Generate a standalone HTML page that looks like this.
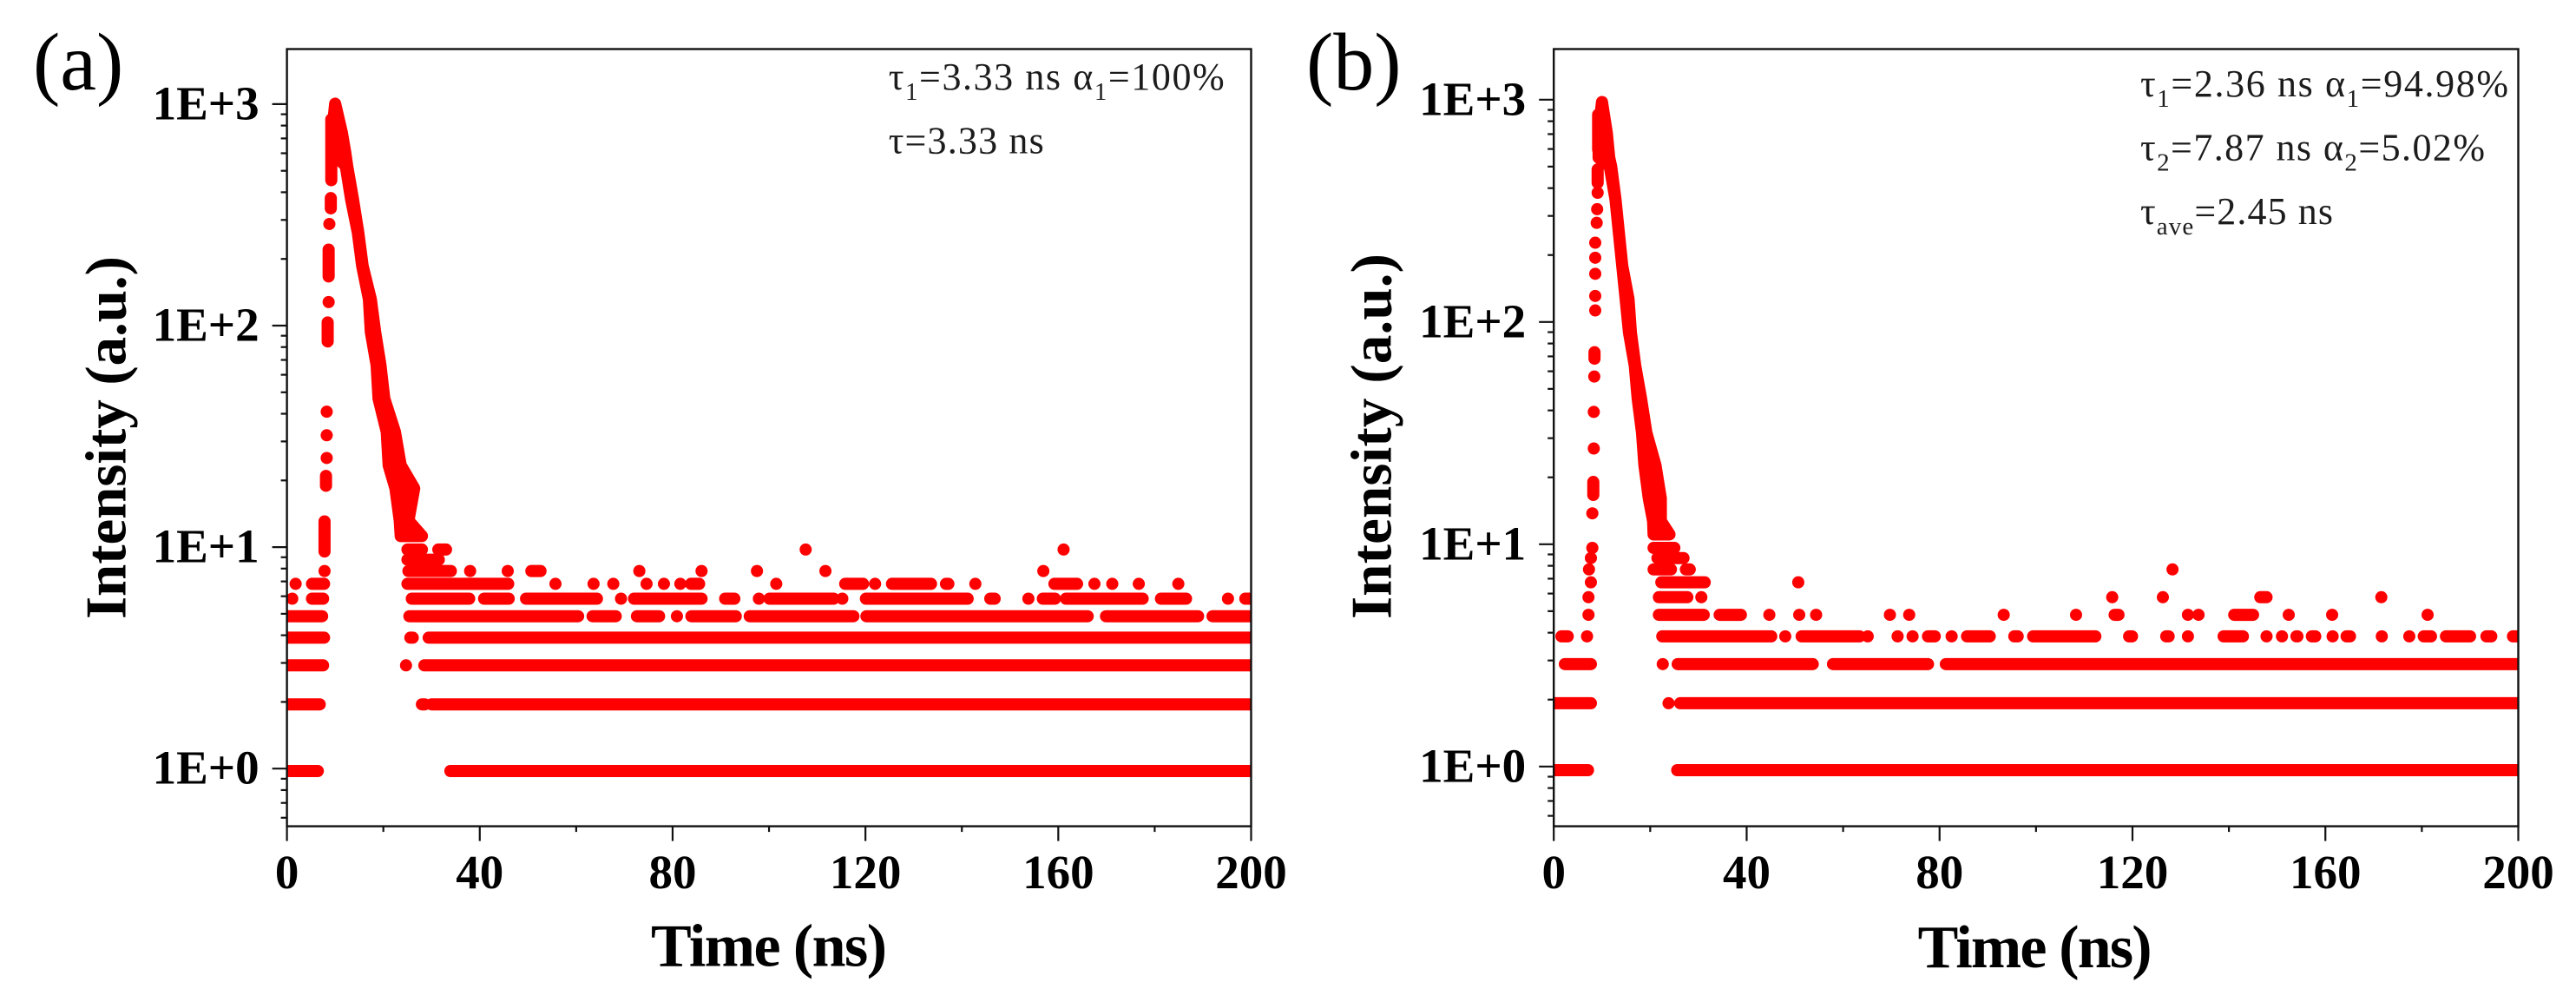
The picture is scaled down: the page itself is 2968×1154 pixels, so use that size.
<!DOCTYPE html>
<html lang="en">
<head>
<meta charset="utf-8">
<title>Fluorescence decay curves</title>
<style>
html,body{margin:0;padding:0;background:#fff;}
svg{display:block;}
text{font-family:"Liberation Serif",serif;}
.title{font-size:70px;font-weight:bold;fill:#000;}
.ytitle{font-size:67px;font-weight:bold;fill:#000;}
.note{font-size:44px;fill:#1c1c1c;}
.panel{font-size:94px;fill:#000;}
</style>
</head>
<body>
<svg id="figure" xmlns="http://www.w3.org/2000/svg" width="2968" height="1154" viewBox="0 0 2968 1154">
  <rect x="0" y="0" width="2968" height="1154" fill="#fff"/>
  <defs>
    <clipPath id="clip-a"><rect x="330.6" y="56.5" width="1110.9" height="895.1"/></clipPath>
    <clipPath id="clip-b"><rect x="1790.2" y="56.5" width="1111.3" height="895.1"/></clipPath>
  </defs>

  <g id="panel-a"></g>
  <g id="panel-b"></g>

  <text class="panel" x="38" y="103">(a)</text>
  <text class="panel" x="1505" y="103">(b)</text>

  <text class="ytitle" transform="translate(144.4 713) rotate(-90)" textLength="418" lengthAdjust="spacing">Intensity (a.u.)</text>
  <text class="ytitle" transform="translate(1602.4 713) rotate(-90)" textLength="421" lengthAdjust="spacing">Intensity (a.u.)</text>
  <text class="title" x="750" y="1112.7" textLength="272" lengthAdjust="spacing">Time (ns)</text>
  <text class="title" x="2209.6" y="1114" textLength="270" lengthAdjust="spacing">Time (ns)</text>

  <text class="note" x="1023.7" y="103" textLength="387" lengthAdjust="spacing">τ<tspan dy="12" font-size="29">1</tspan><tspan dy="-12">=3.33 ns α</tspan><tspan dy="12" font-size="29">1</tspan><tspan dy="-12">=100%</tspan></text>
  <text class="note" x="1023.7" y="176.7" textLength="179" lengthAdjust="spacing">τ=3.33 ns</text>
  <text class="note" x="2466" y="111" textLength="424" lengthAdjust="spacing">τ<tspan dy="12" font-size="29">1</tspan><tspan dy="-12">=2.36 ns α</tspan><tspan dy="12" font-size="29">1</tspan><tspan dy="-12">=94.98%</tspan></text>
  <text class="note" x="2466" y="184.3" textLength="397" lengthAdjust="spacing">τ<tspan dy="12" font-size="29">2</tspan><tspan dy="-12">=7.87 ns α</tspan><tspan dy="12" font-size="29">2</tspan><tspan dy="-12">=5.02%</tspan></text>
  <text class="note" x="2466" y="258" textLength="222" lengthAdjust="spacing">τ<tspan dy="12" font-size="29">ave</tspan><tspan dy="-12">=2.45 ns</tspan></text>
</svg>

<script>
// Axis tick data
const xTickValues = [0, 20, 40, 60, 80, 100, 120, 140, 160, 180, 200];
const xTickLabels = ['0', '', '40', '', '80', '', '120', '', '160', '', '200'];
const yDecades = [0, 1, 2, 3];
const yTickLabels = ['1E+0', '1E+1', '1E+2', '1E+3'];
const yMinorFactors = [2, 3, 4, 5, 6, 7, 8, 9];
const yLowerMinorTicks = [0.9, 0.8, 0.7, 0.6];

// Discrete photon-count levels (counts) for the background rows
const countLevels = [1, 2, 3, 4, 5, 6, 7, 8, 9, 10];

// Panel (a): occupied time spans [ns] read per count level
const runsA1 = [[0,6.4],[33.9,200]];
const runsA2 = [[0,6.8],[28,28.6],[30,200]];
const runsA3 = [[0,7.5],[24.7,24.7],[28.5,200]];
const runsA4 = [[0,7.7],[25.6,26.1],[29.4,200]];
const runsA5 = [[0,7.3],[25.4,60.4],[63.4,68.2],[72.6,77.2],[80.9,80.9],[83.9,93.1],[96,117.5],[120.2,166.1],[169.9,189],[192,200]];
const runsA6 = [[1.1,1.1],[5.2,7.5],[25.9,37.8],[40.9,46],[49.6,64.3],[69.3,69.3],[72,86],[90.9,92.8],[97.9,97.9],[100.1,113.4],[115.2,115.2],[120.1,141.2],[145.9,146.8],[153.8,153.8],[156.8,159.3],[161.6,177.5],[181.3,186.5],[195.2,195.2],[198.8,200]];
const runsA7 = [[1.8,1.8],[5.2,7.7],[25,45.9],[55.7,55.7],[63.6,63.6],[67.7,67.7],[74.6,74.6],[78.2,78.2],[81.6,81.6],[83.8,85.5],[101.5,101.5],[115.8,119.5],[122,122],[125.5,133.6],[136.7,137.2],[142.8,142.8],[159.2,163.9],[167.5,167.5],[171.2,171.2],[176.7,176.7],[184.9,184.9]];
const runsA8 = [[7.8,7.8],[25.2,34],[38,38],[45.8,45.8],[50.7,52.6],[73.1,73.1],[86,86],[97.5,97.5],[111.7,111.7],[156.9,156.9]];
const runsA9 = [[25,31.5]];
const runsA10 = [[25,28],[31.4,33],[107.6,107.6],[161.1,161.1]];

// Panel (a): decay flank, counts with earliest and latest time at that count
const fallCountsA = [1030,762,620,539,382,270,191,135,96,68,48,34,24,18.9,13.5,11.5];
const fallEarlyA = [10,9.4,9.4,12.2,13.3,14.7,15.6,17,17.4,18.6,19,20.7,21.1,22.5,23.4,23.6];
const fallLateA = [10,11.4,12.1,12.5,13.7,14.8,15.7,17.4,18.3,19.4,20.2,22.4,23.6,26.4,25.2,28];

// Panel (a): rising flank, time with the count range seen at that time
const riseTimeA = [9.2,9.1,8.8,8.65,8.65,8.45,8.25,8.25,8.25,8.1,7.8];
const riseHighA = [875,386,295,226,131,106,41.9,32.8,25.9,21.5,13.4];
const riseLowA = [465,347,295,171,131,87,41.9,32.8,25.9,19.4,9.8];

// Panel (b): occupied time spans [ns] read per count level
const runsB1 = [[0,7.1],[25.6,200]];
const runsB2 = [[0,7.7],[23.8,23.8],[26.2,200]];
const runsB3 = [[2.3,7.7],[22.6,22.6],[25.7,53.7],[57.9,77.6],[81.3,200]];
const runsB4 = [[1.6,2.9],[6.9,6.9],[22.5,45.1],[48,48],[51.4,63.4],[65.1,65.1],[71.3,71.3],[74.4,74.4],[77.6,79],[82.5,82.5],[85.7,90.4],[95.5,96.2],[99.4,112.3],[119.3,119.9],[127,127.5],[131.5,131.5],[138.9,142.9],[147.8,147.8],[151,151],[154,154.2],[157.2,157.9],[161.5,161.5],[164.4,165.1],[171.7,171.7],[177.4,177.4],[180.4,181.9],[185,190],[193.4,194.4],[198.9,200]];
const runsB5 = [[7.2,7.2],[21.8,31.1],[34.4,38.8],[44.7,44.7],[50.9,50.9],[54.4,54.4],[69.7,69.7],[73.7,73.7],[93.3,93.3],[108.3,108.3],[116.3,117.1],[131.5,131.5],[133.7,133.7],[141.1,145],[152.4,152.4],[161.4,161.4],[181.2,181.2]];
const runsB6 = [[7.2,7.2],[21.8,27.7],[30.6,30.6],[115.8,115.8],[126.3,126.3],[146.5,147.8],[171.6,171.6]];
const runsB7 = [[7.7,7.7],[22.3,31.3],[50.7,50.7]];
const runsB8 = [[7.3,7.3],[20.7,24.3],[27.4,28.2],[128.3,128.3]];
const runsB9 = [[7.7,7.7],[21.5,26.9]];
const runsB10 = [[8,8],[20.7,25]];

// Panel (b): decay flank
const fallCountsB = [1014,736,570,521,370,262,186,132,93,66,47,33,23.5,16.7,13.2,11.5];
const fallEarlyB = [10,9.3,9.3,11.6,12.8,13.5,14.2,14.9,15.6,16.8,17.4,18.3,18.8,19.7,20.6,20.7];
const fallLateB = [10,11,11.5,11.9,12.8,13.5,14.2,15.5,16,16.9,18.1,19.2,21.1,22.2,22.2,24];

// Panel (b): rising flank
const riseTimeB = [9.2,9.1,9.1,9,8.9,8.6,8.6,8.6,8.6,8.6,8.45,8.4,8.3,8.3,8.2,8];
const riseHighB = [889,504,396,334,290,236,202,171,136,117,75.9,59,40.9,28,19.8,14.3];
const riseLowB = [620,439,396,334,290,236,202,171,136,117,71,59,40.9,28,17.3,14.3];

const runsA = [runsA1, runsA2, runsA3, runsA4, runsA5, runsA6, runsA7, runsA8, runsA9, runsA10];
const runsB = [runsB1, runsB2, runsB3, runsB4, runsB5, runsB6, runsB7, runsB8, runsB9, runsB10];

const SVG_NS = 'http://www.w3.org/2000/svg';
const RED = '#ff0000';
const INK = '#111';
const MARKER = 14;
const X_MAX = 200;

function make(parent, tag, attrs) {
  const el = document.createElementNS(SVG_NS, tag);
  for (const k in attrs) el.setAttribute(k, attrs[k]);
  parent.appendChild(el);
  return el;
}

function drawPanel(cfg) {
  const root = document.getElementById(cfg.id);
  const xScale = t => cfg.left + t * (cfg.right - cfg.left) / X_MAX;
  const yScale = v => cfg.base - cfg.decade * Math.log10(v);
  const yMark = v => yScale(v) + cfg.markShift;

  const marks = make(root, 'g', {'clip-path': 'url(#' + cfg.clip + ')'});
  
  

  // Background rows at integer count levels
  countLevels.forEach((level, i) => {
    cfg.runs[i].forEach(run => {
      const y = yMark(level);
      const seg = make(marks, 'line', {
        x1: xScale(run[0]), y1: y, x2: xScale(run[1]) + 0.01, y2: y,
        stroke: RED, 'stroke-width': MARKER, 'stroke-linecap': 'round'
      });
      
      
    });
  });

  // Rising flank
  cfg.riseTime.forEach((t, i) => {
    const seg = make(marks, 'line', {
      x1: xScale(t), y1: yMark(cfg.riseHigh[i]), x2: xScale(t) + 0.01, y2: yMark(cfg.riseLow[i]),
      stroke: RED, 'stroke-width': MARKER, 'stroke-linecap': 'round'
    });
    
    
  });

  // Decay flank band
  const edge = [];
  cfg.fallCounts.forEach((c, i) => edge.push(xScale(cfg.fallEarly[i]) + ',' + yMark(c)));
  for (let i = cfg.fallCounts.length - 1; i >= 0; i--) {
    edge.push(xScale(cfg.fallLate[i]) + ',' + yMark(cfg.fallCounts[i]));
  }
  const band = make(marks, 'polygon', {
    points: edge.join(' '), fill: RED, stroke: RED,
    'stroke-width': MARKER, 'stroke-linejoin': 'round'
  });
  
  

  // Frame
  const frame = make(root, 'rect', {
    x: cfg.left, y: cfg.top, width: cfg.right - cfg.left, height: cfg.bottom - cfg.top,
    fill: 'none', stroke: INK, 'stroke-width': 2.4
  });
  
  

  // X ticks and labels
  xTickValues.forEach((v, i) => {
    const major = xTickLabels[i] !== '';
    const tick = make(root, 'line', {
      x1: xScale(v), x2: xScale(v), y1: cfg.bottom, y2: cfg.bottom + (major ? 17 : 6.5),
      stroke: INK, 'stroke-width': 2.2
    });
    
    
    if (major) {
      const label = make(root, 'text', {
        x: xScale(v), y: 1023, 'text-anchor': 'middle',
        'font-size': 55, 'font-weight': 'bold', fill: '#000'
      });
      label.textContent = xTickLabels[i];
      
      
    }
  });

  // Y major ticks, labels and minors
  yDecades.forEach((d, i) => {
    const value = Math.pow(10, d);
    const y = yScale(value);
    const tick = make(root, 'line', {
      x1: cfg.left - 17, x2: cfg.left, y1: y, y2: y, stroke: INK, 'stroke-width': 2.2
    });
    
    
    const label = make(root, 'text', {
      x: cfg.left - 32, y: y + 17.5, 'text-anchor': 'end',
      'font-size': 55, 'font-weight': 'bold', fill: '#000'
    });
    label.textContent = yTickLabels[i];
    
    
    if (d < 3) {
      yMinorFactors.forEach(f => {
        const yy = yScale(f * value);
        const minor = make(root, 'line', {
          x1: cfg.left - 7, x2: cfg.left, y1: yy, y2: yy, stroke: INK, 'stroke-width': 2.2
        });
        
        
      });
    }
  });
  yLowerMinorTicks.forEach(v => {
    const yy = yScale(v);
    const minor = make(root, 'line', {
      x1: cfg.left - 7, x2: cfg.left, y1: yy, y2: yy, stroke: INK, 'stroke-width': 2.2
    });
    
    
  });
}

drawPanel({
  id: 'panel-a', key: 'panel-a', clip: 'clip-a',
  left: 330.6, right: 1441.5, top: 56.5, bottom: 951.6,
  base: 885.2, decade: 255.1, markShift: 2.8,
  runs: runsA, fallCounts: fallCountsA, fallEarly: fallEarlyA, fallLate: fallLateA,
  riseTime: riseTimeA, riseHigh: riseHighA, riseLow: riseLowA
});
drawPanel({
  id: 'panel-b', key: 'panel-b', clip: 'clip-b',
  left: 1790.2, right: 2901.5, top: 56.5, bottom: 951.6,
  base: 882.8, decade: 256, markShift: 4.2,
  runs: runsB, fallCounts: fallCountsB, fallEarly: fallEarlyB, fallLate: fallLateB,
  riseTime: riseTimeB, riseHigh: riseHighB, riseLow: riseLowB
});
</script>
</body>
</html>
